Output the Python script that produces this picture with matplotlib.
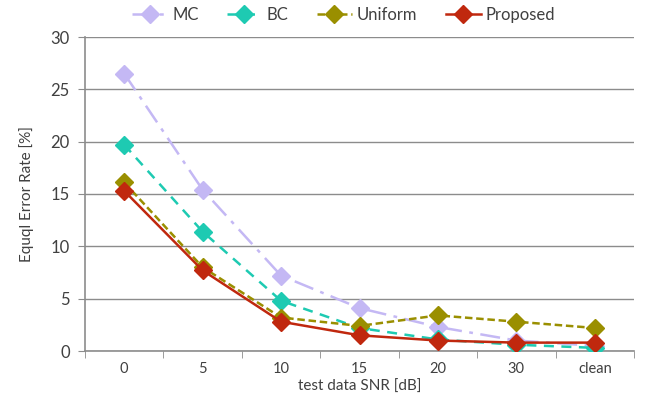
import matplotlib
matplotlib.use("Agg")
import matplotlib.pyplot as plt
import numpy as np

categories = ["0", "5", "10", "15", "20", "30", "clean"]
mc = [26.5, 15.4, 7.2, 4.1, 2.3, 1.0, 0.5]
bc = [19.7, 11.4, 4.8, 2.2, 1.1, 0.6, 0.3]
uniform = [16.1, 8.0, 3.2, 2.4, 3.4, 2.8, 2.2]
proposed = [15.3, 7.7, 2.8, 1.5, 1.0, 0.8, 0.8]

plt.rcParams['font.family'] = ['Lato', 'DejaVu Sans']
txt = '#404040'
grid = '#8c8c8c'

fig = plt.figure(figsize=(6.46, 4.16), dpi=100)
ax = fig.add_axes([85/646, 1-351/416, (634-85)/646, (351-37)/416])

x = np.arange(len(categories))
ax.plot(x, mc, color='#c4b8f4', ls=(0, (8, 3, 1.5, 3)), lw=1.8, marker='D', ms=9, label='MC', zorder=3)
ax.plot(x, bc, color='#1ecab2', ls=(0, (4, 3)), lw=1.8, marker='D', ms=9, label='BC', zorder=4)
ax.plot(x, uniform, color='#9a8f00', ls=(0, (3, 1.5)), lw=1.8, marker='D', ms=9, label='Uniform', zorder=5)
ax.plot(x, proposed, color='#c0280e', ls='-', lw=1.8, marker='D', ms=9, label='Proposed', zorder=6)

ax.set_xlim(-0.5, len(categories) - 0.5)
ax.set_ylim(0, 30)
ax.set_yticks(range(0, 31, 5))
ax.set_xticks(x)
ax.set_xticklabels(categories)
ax.set_xticks(np.arange(-0.5, len(categories), 1), minor=True)
ax.tick_params(axis='x', which='major', length=0, pad=8, labelsize=10.5, colors=txt)
ax.tick_params(axis='x', which='minor', length=5, color=grid, direction='out')
ax.tick_params(axis='y', length=5, color=grid, direction='out', labelsize=12, colors=txt, pad=6)
ax.yaxis.grid(True, color=grid, lw=1)
ax.set_axisbelow(True)
for s in ['top', 'right']:
    ax.spines[s].set_visible(False)
for s in ['left', 'bottom']:
    ax.spines[s].set_color(grid)
    ax.spines[s].set_linewidth(1.2)

ax.set_xlabel('test data SNR [dB]', fontsize=11, color=txt, labelpad=3)
ax.set_ylabel('Equql Error Rate [%]', fontsize=11, color=txt, labelpad=12)

leg = ax.legend(loc='center', bbox_to_anchor=(0.471, 1.07), ncol=4, frameon=False,
                fontsize=12, handlelength=2.1, columnspacing=1.7, handletextpad=0.3,
                borderaxespad=0, borderpad=0)
for t in leg.get_texts():
    t.set_color(txt)

fig.savefig('out.png', dpi=100)
